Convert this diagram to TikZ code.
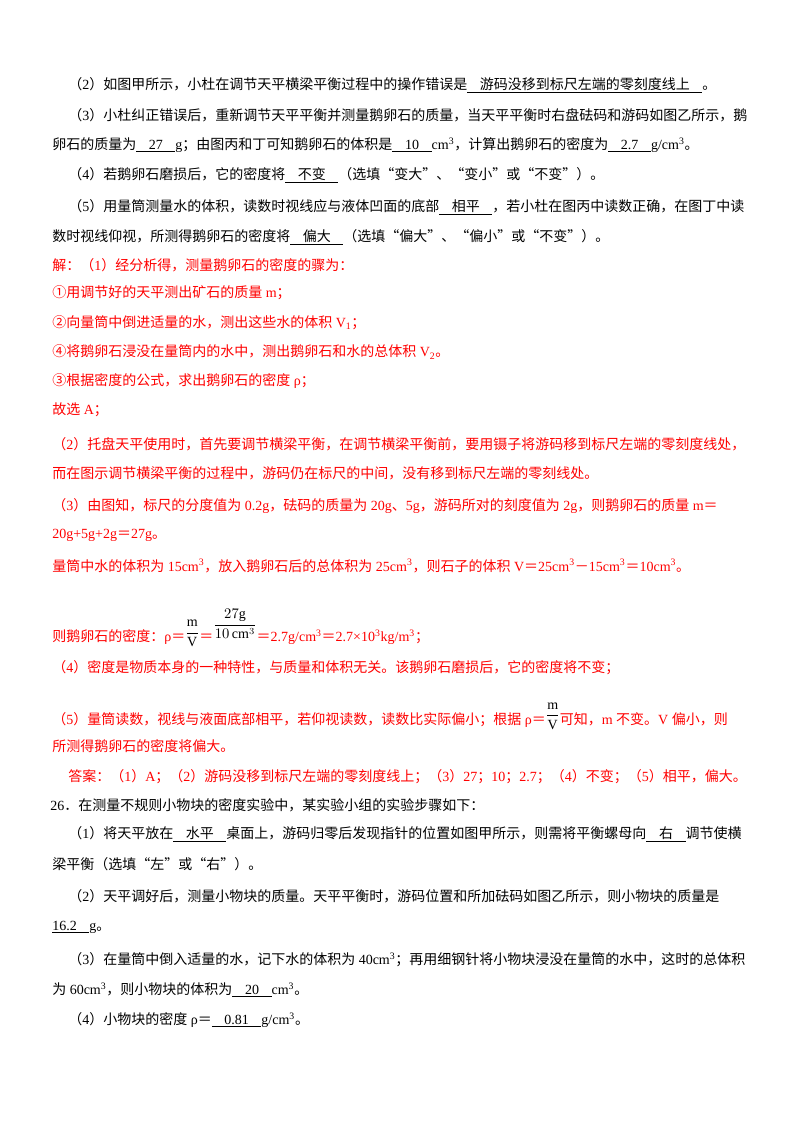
\documentclass[tikz,border=0pt]{standalone}
\usepackage{fontspec}
\setmainfont{Liberation Serif}
\newfontfamily\cjk{Noto Sans CJK SC}
\newXeTeXintercharclass\cjkclass
\makeatletter
\count@="3000
\loop\ifnum\count@<"A000 \XeTeXcharclass\count@=\cjkclass \advance\count@ by 1 \repeat
\count@="FF00
\loop\ifnum\count@<"FFF0 \XeTeXcharclass\count@=\cjkclass \advance\count@ by 1 \repeat
\count@="2460
\loop\ifnum\count@<"2500 \XeTeXcharclass\count@=\cjkclass \advance\count@ by 1 \repeat
\XeTeXcharclass"201C=\cjkclass
\XeTeXcharclass"201D=\cjkclass
\makeatother
\XeTeXinterchartoks 0 \cjkclass = {\cjk}
\XeTeXinterchartoks 4095 \cjkclass = {\cjk}
\XeTeXinterchartoks \cjkclass 0 = {\rmfamily}
\XeTeXinterchartoks \cjkclass 4095 = {\rmfamily}
\XeTeXinterchartokenstate=1
\newcommand\ul[1]{\underline{\hspace{0.9em}#1\hspace{0.9em}}}
\newcommand\cm{cm\textsuperscript{3}}
\newcommand\mv{\raisebox{4pt}{\color{black}$\displaystyle\frac{\mathrm{m}}{\mathrm{V}}$}}
\begin{document}
\begin{tikzpicture}[x=0.75pt,y=-0.75pt,
  t/.style={anchor=west,inner sep=0pt,font=\fontsize{10.5pt}{12pt}\selectfont},
  r/.style={t,text=red}]
\useasboundingbox[fill=white] (0,0) rectangle (800,1132);
\node[t] (l1) at (68,85) {（2）如图甲所示，小杜在调节天平横梁平衡过程中的操作错误是\ul{游码没移到标尺左端的零刻度线上}。};
\node[t] (l2) at (68,115) {（3）小杜纠正错误后，重新调节天平平衡并测量鹅卵石的质量，当天平平衡时右盘砝码和游码如图乙所示，鹅};
\node[t] (l3) at (52,145) {卵石的质量为\ul{27}g；由图丙和丁可知鹅卵石的体积是\ul{10}\cm，计算出鹅卵石的密度为\ul{2.7}g/\cm。};
\node[t] (l4) at (68,175) {（4）若鹅卵石磨损后，它的密度将\ul{不变}（选填“变大”、“变小”或“不变”）。};
\node[t] (l5) at (68,207) {（5）用量筒测量水的体积，读数时视线应与液体凹面的底部\ul{相平}，若小杜在图丙中读数正确，在图丁中读};
\node[t] (l6) at (52,237) {数时视线仰视，所测得鹅卵石的密度将\ul{偏大}（选填“偏大”、“偏小”或“不变”）。};
\node[r] (l7) at (52,265) {解：（1）经分析得，测量鹅卵石的密度的骤为：};
\node[r] (l8) at (52,293) {①用调节好的天平测出矿石的质量 m；};
\node[r] (l9) at (52,323) {②向量筒中倒进适量的水，测出这些水的体积 V\textsubscript{1}；};
\node[r] (l10) at (52,352) {④将鹅卵石浸没在量筒内的水中，测出鹅卵石和水的总体积 V\textsubscript{2}。};
\node[r] (l11) at (52,381) {③根据密度的公式，求出鹅卵石的密度 ρ；};
\node[r] (l12) at (52,410) {故选 A；};
\node[r] (l13) at (52,444) {（2）托盘天平使用时，首先要调节横梁平衡，在调节横梁平衡前，要用镊子将游码移到标尺左端的零刻度线处，};
\node[r] (l14) at (52,473) {而在图示调节横梁平衡的过程中，游码仍在标尺的中间，没有移到标尺左端的零刻线处。};
\node[r] (l15) at (52,506) {（3）由图知，标尺的分度值为 0.2g，砝码的质量为 20g、5g，游码所对的刻度值为 2g，则鹅卵石的质量 m＝};
\node[r] (l16) at (52,535) {20g+5g+2g＝27g。};
\node[r] (l17) at (52,566) {量筒中水的体积为 15\cm，放入鹅卵石后的总体积为 25\cm，则石子的体积 V＝25\cm－15\cm＝10\cm。};
\node[r] (l18) at (52,628) {则鹅卵石的密度：ρ＝\mv＝\raisebox{10pt}{\color{black}$\displaystyle\frac{27\mathrm{g}}{10\,\mathrm{cm}^3}$}＝2.7g/\cm＝2.7×10\textsuperscript{3}kg/m\textsuperscript{3}；};
\node[r] (l19) at (52,668) {（4）密度是物质本身的一种特性，与质量和体积无关。该鹅卵石磨损后，它的密度将不变；};
\node[r] (l20) at (52,716) {（5）量筒读数，视线与液面底部相平，若仰视读数，读数比实际偏小；根据 ρ＝\mv 可知，m 不变。V 偏小，则};
\node[r] (l21) at (52,746) {所测得鹅卵石的密度将偏大。};
\node[r] (l22) at (68,777) {答案：（1）A；（2）游码没移到标尺左端的零刻度线上；（3）27；10；2.7；（4）不变；（5）相平，偏大。};
\node[t] (l23) at (50,805) {26．在测量不规则小物块的密度实验中，某实验小组的实验步骤如下：};
\node[t] (l24) at (68,834) {（1）将天平放在\ul{水平}桌面上，游码归零后发现指针的位置如图甲所示，则需将平衡螺母向\ul{右}调节使横};
\node[t] (l25) at (52,864) {梁平衡（选填“左”或“右”）。};
\node[t] (l26) at (68,896) {（2）天平调好后，测量小物块的质量。天平平衡时，游码位置和所加砝码如图乙所示，则小物块的质量是};
\node[t] (l27) at (52,927) {\underline{16.2\hspace{0.9em}}g。};
\node[t] (l28) at (68,960) {（3）在量筒中倒入适量的水，记下水的体积为 40\cm；再用细钢针将小物块浸没在量筒的水中，这时的总体积};
\node[t] (l29) at (52,990) {为 60\cm，则小物块的体积为\ul{20}\cm。};
\node[t] (l30) at (68,1020) {（4）小物块的密度 ρ＝\ul{0.81}g/\cm。};
\end{tikzpicture}
\end{document}
